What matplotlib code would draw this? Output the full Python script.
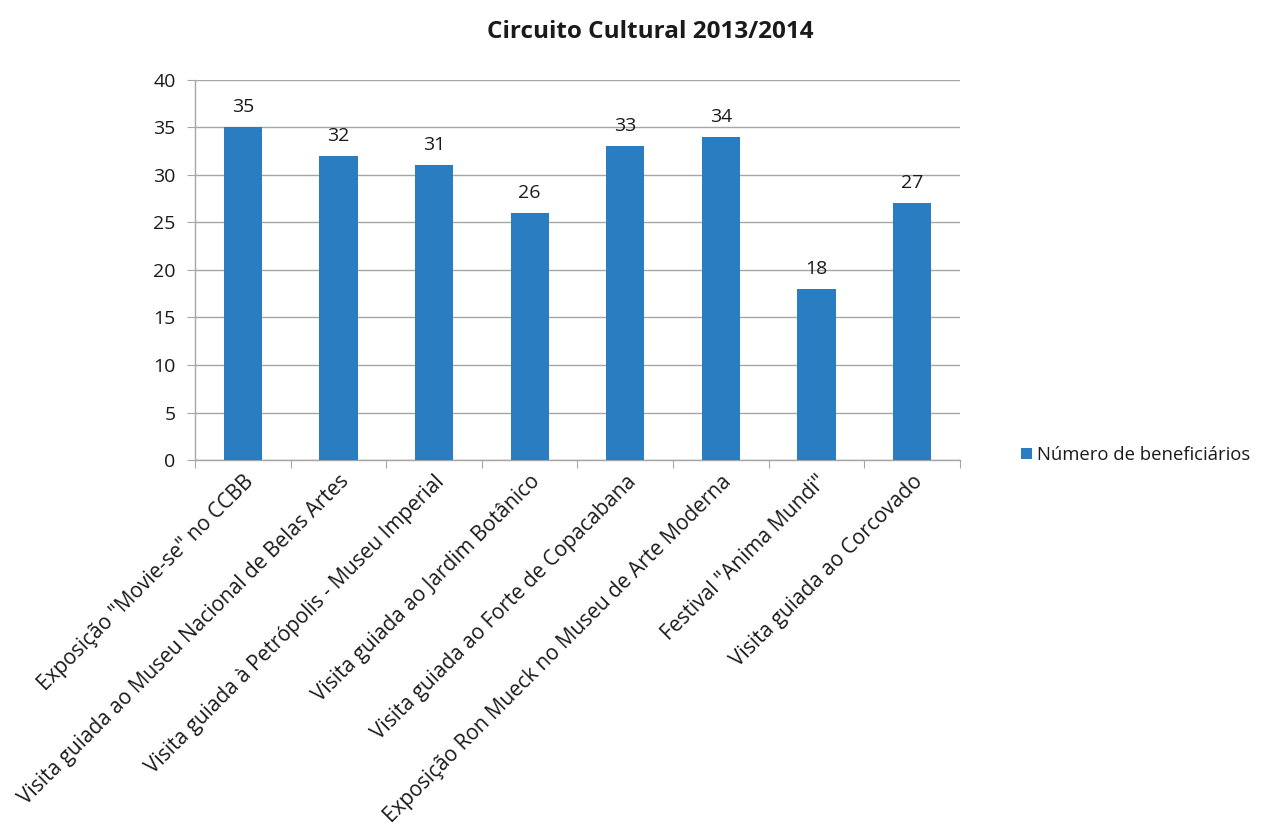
import matplotlib
matplotlib.use("Agg")
import matplotlib.pyplot as plt

categories = [
    'Exposição "Movie-se" no CCBB',
    'Visita guiada ao Museu Nacional de Belas Artes',
    'Visita guiada à Petrópolis - Museu Imperial',
    'Visita guiada ao Jardim Botânico',
    'Visita guiada ao Forte de Copacabana',
    'Exposição Ron Mueck no Museu de Arte Moderna',
    'Festival "Anima Mundi"',
    'Visita guiada ao Corcovado',
]
beneficiarios = [35, 32, 31, 26, 33, 34, 18, 27]
y_ticks = [0, 5, 10, 15, 20, 25, 30, 35, 40]
series_name = "Número de beneficiários"
title = "Circuito Cultural 2013/2014"

plt.rcParams["font.family"] = ["Open Sans", "DejaVu Sans"]

bar_color = "#2A7DC0"
grid_color = "#A6A6A6"
text_color = "#1a1a1a"

fig = plt.figure(figsize=(12.62, 8.35), dpi=100)
ax = fig.add_axes([0.1545, 0.4491, 0.6062, 0.4551])

x = list(range(len(categories)))
bars = ax.bar(x, beneficiarios, width=0.4, color=bar_color, label=series_name, zorder=3)

for xi, v in zip(x, beneficiarios):
    ax.annotate(str(v), (xi, v), xytext=(0, 8), textcoords="offset points",
                ha="center", va="bottom", fontsize=14, color=text_color)

ax.set_xlim(-0.5, len(categories) - 0.5)
ax.set_ylim(0, 40)
ax.set_yticks(y_ticks)
ax.tick_params(axis="y", length=6, color=grid_color, labelsize=14, pad=8, labelcolor=text_color)
ax.yaxis.grid(True, color=grid_color, linewidth=1, zorder=0)

# category boundary ticks on the x axis, labels centred under each bar
ax.set_xticks([i - 0.5 for i in range(len(categories) + 1)])
ax.set_xticklabels([])
ax.tick_params(axis="x", which="major", length=6, color=grid_color)
ax.set_xticks(x, minor=True)
ax.set_xticklabels(categories, minor=True, rotation=45, ha="right",
                   rotation_mode="anchor", fontsize=15, color=text_color)
ax.tick_params(axis="x", which="minor", length=0, pad=8)

for side in ["top", "right"]:
    ax.spines[side].set_visible(False)
for side in ["left", "bottom"]:
    ax.spines[side].set_color(grid_color)
    ax.spines[side].set_linewidth(1)

fig.text(0.515, 0.962, title, ha="center", va="center", fontsize=17.5,
         fontweight="bold", color=text_color)

fig.legend(handles=[bars], labels=[series_name], loc="center left",
           bbox_to_anchor=(0.809, 0.455), frameon=False, fontsize=13.3,
           handlelength=0.6, handleheight=0.6, handletextpad=0.25,
           borderaxespad=0, borderpad=0, labelcolor=text_color)

fig.savefig("out.png", dpi=100, facecolor="white")
